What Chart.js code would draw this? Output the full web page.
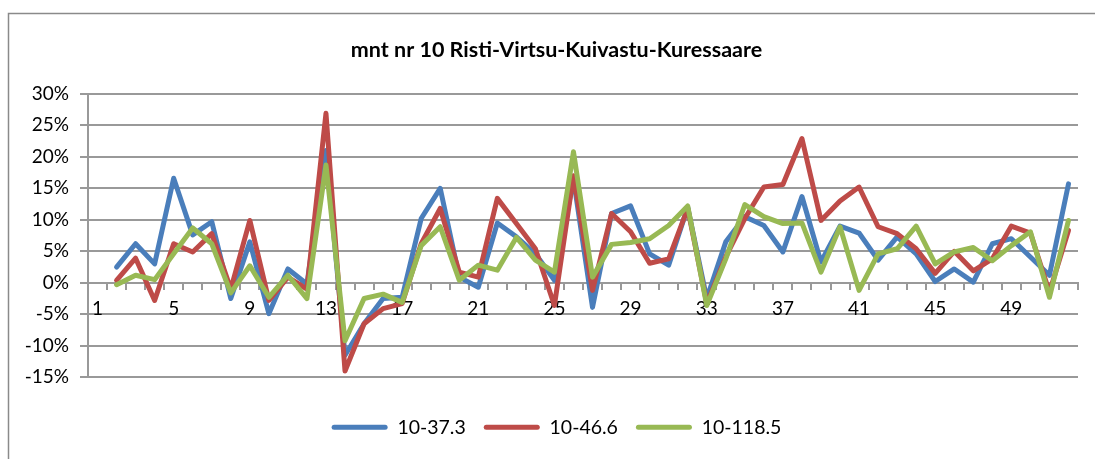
<!DOCTYPE html>
<html lang="et">
<head>
  <meta charset="UTF-8">
  <title>mnt nr 10</title>
  <script src="https://cdn.jsdelivr.net/npm/chart.js"></script>
  <style>
    body { margin: 0; background: #fff; }
    #graafik { display: block; }
  </style>
</head>
<body>
  <canvas id="graafik" width="1095" height="459"></canvas>

<script>
  // kategooriad 1..52, esimene punkt on tühi
  var kategooriad = [];
  for (let i = 1; i <= 52; i++) kategooriad.push(String(i));

  var seeria1 = [null, 2.5, 6.2, 3.0, 16.6, 7.6, 9.7, -2.5, 6.5, -4.9, 2.2, -0.2, 21.0, -11.5, -6.5, -2.5, -2.3,
    10.2, 15.0, 0.9, -0.7, 9.5, 7.3, 4.6, 0.4, 16.5, -3.9, 11.0, 12.2, 4.6, 2.8, 12.0, -2.5, 6.5, 10.5, 9.1,
    4.9, 13.7, 3.3, 9.0, 7.9, 3.6, 7.3, 4.6, 0.2, 2.2, 0.1, 6.2, 7.0, 4.1, 1.2, 15.7];
  var seeria2 = [null, 0.4, 3.9, -2.8, 6.2, 4.9, 7.8, -1.0, 9.9, -2.8, 0.9, -1.0, 26.9, -14.0, -6.5, -4.1, -3.3,
    6.2, 11.8, 1.7, 0.9, 13.4, 9.4, 5.4, -3.6, 17.0, -1.2, 11.0, 8.1, 3.1, 3.8, 11.8, -3.3, 4.1, 10.2, 15.2,
    15.6, 22.9, 9.9, 13.0, 15.2, 8.9, 7.8, 5.4, 1.5, 5.0, 1.9, 3.8, 9.0, 7.9, -1.5, 8.3];
  var seeria3 = [null, -0.3, 1.2, 0.5, 4.6, 8.7, 6.2, -1.6, 2.7, -2.3, 1.2, -2.5, 18.7, -9.2, -2.5, -1.8, -3.1,
    5.9, 8.9, 0.4, 2.8, 2.0, 7.2, 3.6, 1.7, 20.8, 0.9, 6.1, 6.4, 7.0, 9.1, 12.2, -3.6, 3.8, 12.4, 10.5,
    9.4, 9.5, 1.7, 8.9, -1.2, 4.6, 5.4, 9.0, 3.0, 4.9, 5.6, 3.5, 5.9, 8.1, -2.3, 9.9];

  var nimed = ['10-37.3', '10-46.6', '10-118.5'];
  var varvid = ['#4A7EBB', '#BE4B48', '#98B954'];

  var pealkiri = 'mnt nr 10 Risti-Virtsu-Kuivastu-Kuressaare';
  var fondiNimi = 'Lato, "Noto Sans", sans-serif';
  var hall = '#999999';

  // raam ümber kogu joonise (Exceli diagrammiala)
  const raam = {
    id: 'raam',
    beforeDraw(chart) {
      const c = chart.ctx;
      c.save();
      c.fillStyle = '#fff';
      c.fillRect(0, 0, chart.width, chart.height);
      c.strokeStyle = '#8a8a8a';
      c.lineWidth = 1.5;
      c.strokeRect(8.5, 13.5, 1200, 600);
      c.restore();
    }
  };

  function joon(i, andmed, jrk) {
    return {
      label: nimed[i],
      data: andmed,
      borderColor: varvid[i],
      backgroundColor: varvid[i],
      borderWidth: 5,
      borderJoinStyle: 'round',
      borderCapStyle: 'round',
      pointRadius: 0,
      tension: 0,
      order: jrk
    };
  }

  const ctx = document.getElementById('graafik');
  new Chart(ctx, {
    type: 'line',
    data: {
      labels: kategooriad,
      datasets: [joon(0, seeria1, 3), joon(1, seeria2, 2), joon(2, seeria3, 1)]
    },
    options: {
      responsive: false,
      animation: false,
      layout: { padding: { left: 18, right: 0, top: 0, bottom: 12 } },
      plugins: {
        title: {
          display: true,
          text: pealkiri,
          color: '#000',
          font: { family: fondiNimi, size: 21.5, weight: 'bold' },
          padding: { top: 37, bottom: 31 }
        },
        legend: {
          position: 'bottom',
          title: { display: true, text: '', font: { size: 1 }, padding: { top: 21, bottom: 0 } },
          labels: {
            color: '#000',
            font: { family: fondiNimi, size: 19.5 },
            boxWidth: 56,
            boxHeight: 5,
            padding: 18,
            useBorderRadius: true,
            borderRadius: 2.5,
            sort: (a, b) => a.datasetIndex - b.datasetIndex,
            generateLabels: function (chart) {
              const esemed = Chart.defaults.plugins.legend.labels.generateLabels(chart);
              esemed.forEach(e => { e.fillStyle = e.strokeStyle; e.lineWidth = 0; });
              return esemed;
            }
          }
        },
        tooltip: { enabled: false }
      },
      scales: {
        x: {
          position: { y: 0 },
          offset: true,
          border: { display: true, color: hall, width: 2 },
          grid: { offset: true, drawOnChartArea: false, drawTicks: true, tickLength: 6, color: hall, lineWidth: 2 },
          ticks: {
            autoSkip: false,
            maxRotation: 0,
            color: '#000',
            padding: 9,
            font: { family: fondiNimi, size: 19 },
            callback: function (v, i) { return i % 4 === 0 ? kategooriad[i] : ''; }
          }
        },
        y: {
          min: -15,
          max: 30,
          border: { display: true, color: hall, width: 2 },
          grid: { color: hall, lineWidth: 2, tickLength: 8 },
          ticks: {
            stepSize: 5,
            color: '#000',
            padding: 11,
            font: { family: fondiNimi, size: 19 },
            callback: v => v + '%'
          },
          afterFit: s => { s.width = 70; }
        },
        y2: {
          position: 'right',
          display: true,
          border: { display: false },
          grid: { display: false, drawTicks: false },
          ticks: { display: false },
          afterFit: s => { s.width = 17; }
        }
      }
    },
    plugins: [raam]
  });
</script>
</body>
</html>
